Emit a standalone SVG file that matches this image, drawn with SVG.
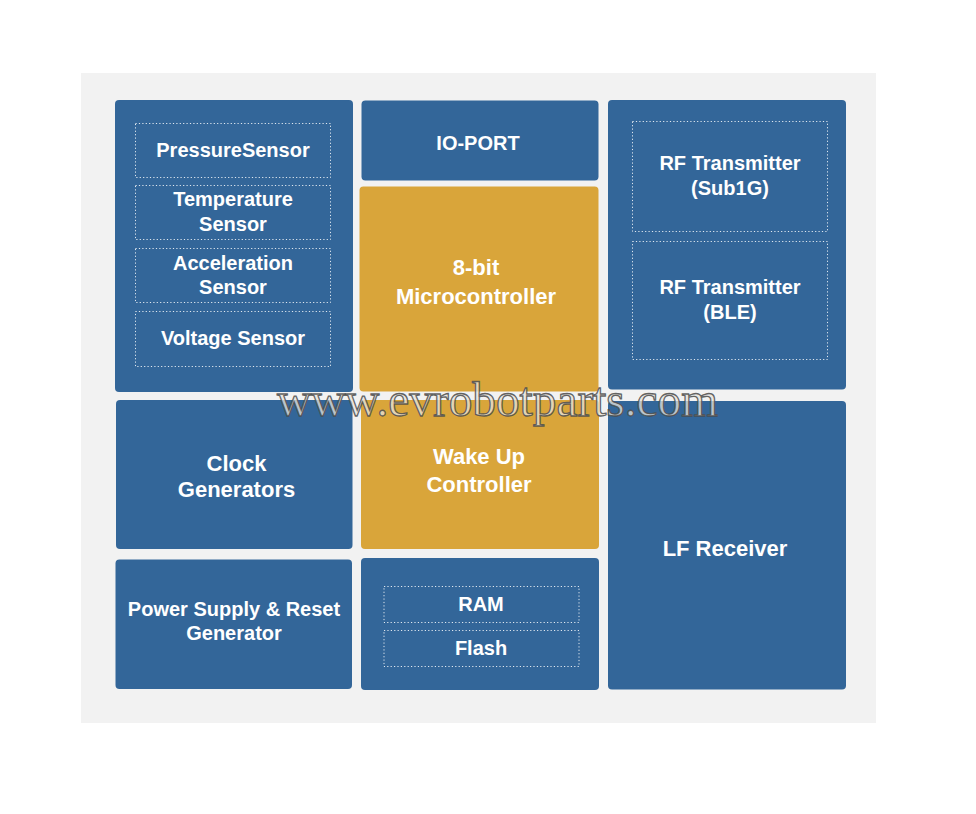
<svg xmlns="http://www.w3.org/2000/svg" width="976" height="814" viewBox="0 0 976 814">
<style>
.blk{fill:#336699}
.gold{fill:#d9a53a}
.dot{fill:none;stroke:#ffffff;stroke-width:1;stroke-dasharray:1.2 2.2;opacity:0.85}
.t{font-family:"Liberation Sans",Arial,Helvetica,sans-serif;font-weight:bold;fill:#ffffff;text-anchor:middle}
.s20{font-size:20px}
.s22{font-size:22px}
.wm{font-family:"Liberation Serif","Times New Roman",serif;font-size:48px;fill:#e8e4dc;fill-opacity:0.75;stroke:#4a4a4a;stroke-width:1.3;stroke-opacity:0.85}
</style>
<rect x="0" y="0" width="976" height="814" fill="#ffffff"/>
<rect x="81" y="73" width="795" height="650" fill="#f2f2f2"/>

<g id="sensors">
<rect class="blk" x="115" y="100" width="238" height="292" rx="4"/>
<g id="pressure"><rect class="dot" x="135.5" y="123.5" width="195" height="54"/><text class="t s20" x="233" y="157">PressureSensor</text></g>
<g id="temperature"><rect class="dot" x="135.5" y="185.5" width="195" height="54"/><text class="t s20" x="233" y="206">Temperature</text><text class="t s20" x="233" y="230.5">Sensor</text></g>
<g id="acceleration"><rect class="dot" x="135.5" y="248.5" width="195" height="54"/><text class="t s20" x="233" y="269.5">Acceleration</text><text class="t s20" x="233" y="293.5">Sensor</text></g>
<g id="voltage"><rect class="dot" x="135.5" y="311.5" width="195" height="55"/><text class="t s20" x="233" y="345">Voltage Sensor</text></g>
</g>

<g id="ioport">
<rect class="blk" x="361.5" y="100.5" width="237" height="80" rx="4"/>
<text class="t s20" x="478" y="150">IO-PORT</text>
</g>

<g id="mcu">
<rect class="gold" x="359.5" y="186.5" width="239" height="205" rx="4"/>
<text class="t s22" x="476" y="275">8-bit</text>
<text class="t s22" x="476" y="303.5">Microcontroller</text>
</g>

<g id="rf">
<rect class="blk" x="608" y="100" width="238" height="289.5" rx="4"/>
<g id="rf-sub1g"><rect class="dot" x="632.5" y="121.5" width="195" height="110"/><text class="t s20" x="730" y="170">RF Transmitter</text><text class="t s20" x="730" y="195">(Sub1G)</text></g>
<g id="rf-ble"><rect class="dot" x="632.5" y="241.5" width="195" height="118"/><text class="t s20" x="730" y="293.5">RF Transmitter</text><text class="t s20" x="730" y="319">(BLE)</text></g>
</g>

<g id="clock">
<rect class="blk" x="116" y="400" width="236.5" height="149" rx="4"/>
<text class="t s22" x="236.5" y="470.5">Clock</text>
<text class="t s22" x="236.5" y="497">Generators</text>
</g>

<g id="wakeup">
<rect class="gold" x="361" y="400" width="238" height="149" rx="4"/>
<text class="t s22" x="479" y="464">Wake Up</text>
<text class="t s22" x="479" y="491.5">Controller</text>
</g>

<g id="lf">
<rect class="blk" x="608" y="401" width="238" height="288.5" rx="4"/>
<text class="t s22" x="725" y="556">LF Receiver</text>
</g>

<g id="power">
<rect class="blk" x="115.5" y="559.5" width="236.5" height="129.5" rx="4"/>
<text class="t s20" x="234" y="616">Power Supply &amp; Reset</text>
<text class="t s20" x="234" y="640">Generator</text>
</g>

<g id="memory">
<rect class="blk" x="361" y="558" width="238" height="132" rx="4"/>
<g id="ram"><rect class="dot" x="384" y="586.5" width="195" height="36"/><text class="t s20" x="481" y="610.5">RAM</text></g>
<g id="flash"><rect class="dot" x="384" y="630.5" width="195" height="36"/><text class="t s20" x="481" y="655">Flash</text></g>
</g>

<g id="connectors"></g>

<text class="wm" x="277" y="416" textLength="441" lengthAdjust="spacingAndGlyphs">www.evrobotparts.com</text>
</svg>
